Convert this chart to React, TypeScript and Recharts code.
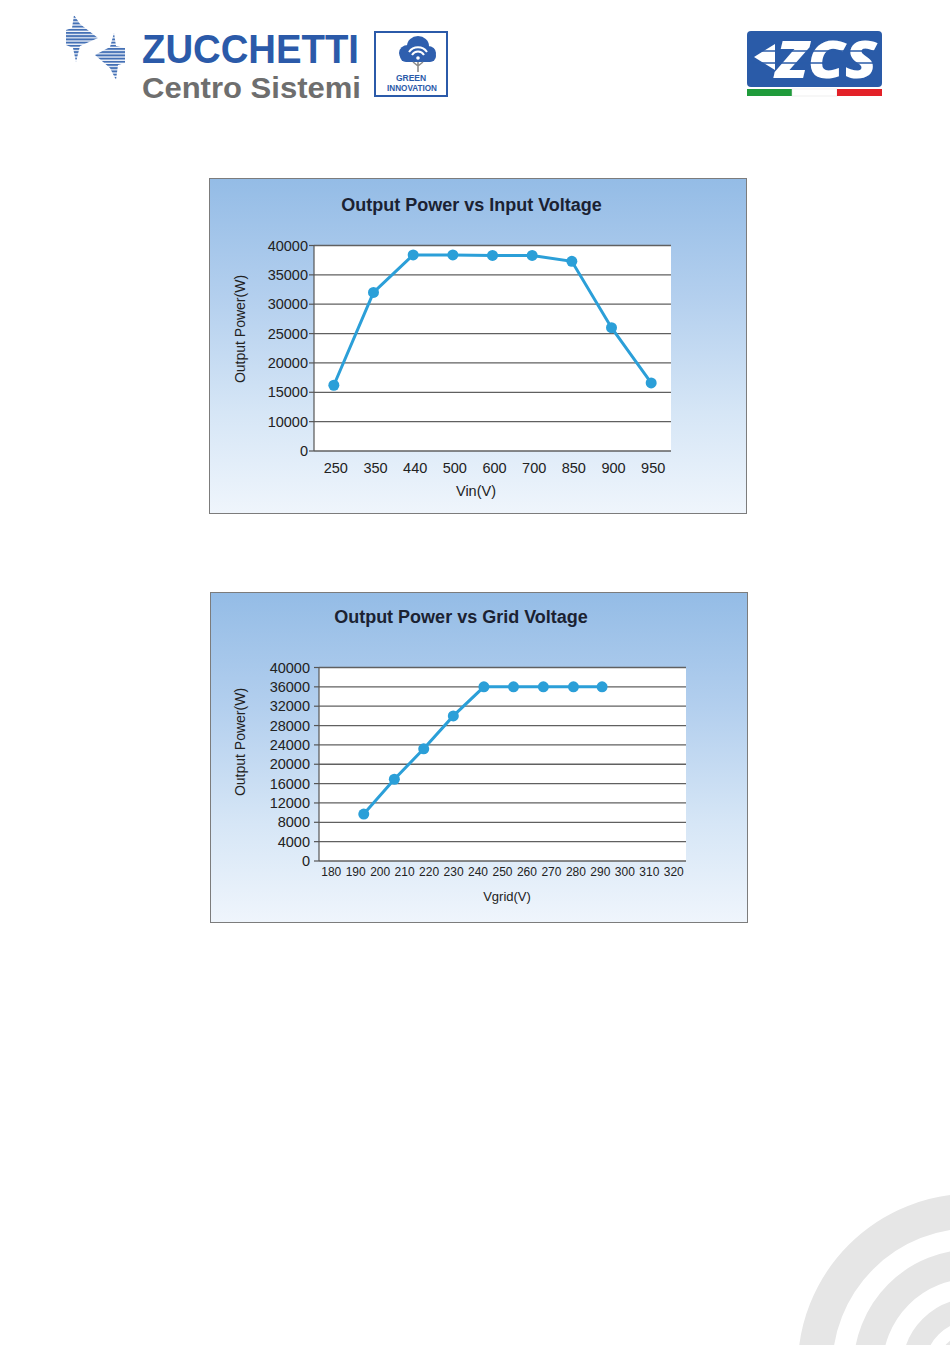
import React from 'react';
import { LineChart, Line, XAxis, YAxis, CartesianGrid } from 'recharts';

const FONT = '"Liberation Sans", Arial, Helvetica, sans-serif';
const LINE_COLOR = '#2b9fd8';
const GRID_COLOR = '#606060';
const AXIS_COLOR = '#555555';
const TICK_COLOR = '#222222';

// ---------- Chart 1: Output Power vs Input Voltage ----------
const vinCategories = ['250', '350', '440', '500', '600', '700', '850', '900', '950'];
const vinPower = [16200, 32000, 38400, 38400, 38300, 38300, 37300, 26000, 16600];
const vinYTicks = [5000, 10000, 15000, 20000, 25000, 30000, 35000, 40000];
const vinYTickLabels = ['0', '10000', '15000', '20000', '25000', '30000', '35000', '40000'];

// ---------- Chart 2: Output Power vs Grid Voltage ----------
const vgridTickValues = [180, 190, 200, 210, 220, 230, 240, 250, 260, 270, 280, 290, 300, 310, 320];
const vgridX = [193.3, 205.8, 217.8, 229.9, 242.4, 254.5, 266.7, 279.0, 290.7];
const vgridPower = [9700, 16900, 23200, 30000, 36000, 36000, 36000, 36000, 36000];
const vgridYTicks = [0, 4000, 8000, 12000, 16000, 20000, 24000, 28000, 32000, 36000, 40000];

const vinIdx = vinCategories.map((_, i) => i);
const vinMarks = [...vinIdx.map((i) => i - 0.5), vinIdx.length - 0.5];
const vinData = vinCategories.map((c, i) => ({ idx: i, vin: c, power: vinPower[i] }));

const vgridMarks = [...vgridTickValues.map((t) => t - 5), vgridTickValues[vgridTickValues.length - 1] + 5];
const vgridData = vgridX.map((x, i) => ({ vgrid: x, power: vgridPower[i] }));

const panelBg: React.CSSProperties = {
  position: 'absolute',
  left: 0,
  top: 0,
  right: 0,
  bottom: 0,
  boxSizing: 'border-box',
  border: '1.5px solid #7c7c7c',
  background: 'linear-gradient(to bottom, #94bce6 0%, #b3cfee 35%, #d6e6f6 70%, #eff5fc 100%)',
};

function Title({ text, center, top }: { text: string; center: number; top: number }) {
  return (
    <div
      style={{
        position: 'absolute',
        left: 0,
        width: center * 2,
        top,
        textAlign: 'center',
        fontFamily: FONT,
        fontWeight: 'bold',
        fontSize: 18,
        lineHeight: '18px',
        color: '#1b2232',
        whiteSpace: 'nowrap',
      }}
    >
      {text}
    </div>
  );
}

function InputVoltageChart() {
  const W = 538;
  const H = 336;
  return (
    <div style={{ position: 'absolute', left: 209, top: 178, width: W, height: H }}>
      <div style={panelBg} />
      <Title text="Output Power vs Input Voltage" center={262.5} top={18.3} />
      <div style={{ position: 'absolute', left: 0, top: 0 }}>
        <LineChart width={W} height={H} data={vinData} margin={{ top: 67.5, right: 76, bottom: 0, left: 0 }}>
          <CartesianGrid vertical={false} fill="#ffffff" stroke={GRID_COLOR} strokeWidth={1.3} />
          <XAxis
            xAxisId={0}
            type="number"
            domain={[-0.5, vinCategories.length - 0.5]}
            allowDataOverflow
            ticks={vinMarks}
            interval={0}
            tick={false}
            height={0}
            tickSize={6}
            axisLine={{ stroke: AXIS_COLOR, strokeWidth: 1.2 }}
            tickLine={{ stroke: AXIS_COLOR, strokeWidth: 1.2 }}
          />
          <XAxis
            xAxisId="cat"
            dataKey="idx"
            type="number"
            domain={[-0.5, vinCategories.length - 0.5]}
            allowDataOverflow
            ticks={vinIdx}
            interval={0}
            tickFormatter={(i: number) => vinCategories[i]}
            height={63}
            tickSize={0}
            tickMargin={12}
            axisLine={false}
            tickLine={false}
            tick={{ fill: TICK_COLOR, fontSize: 14.5, fontFamily: FONT, dx: 2 }}
            label={{
              content: () => (
                <text x={267} y={318} textAnchor="middle" fill={TICK_COLOR} fontSize={14.5} fontFamily={FONT}>
                  Vin(V)
                </text>
              ),
            }}
          />
          <YAxis
            type="number"
            domain={[5000, 40000]}
            ticks={vinYTicks}
            interval={0}
            width={105}
            tickSize={5}
            tickMargin={1}
            tickFormatter={(v: number) => vinYTickLabels[vinYTicks.indexOf(v)]}
            axisLine={{ stroke: AXIS_COLOR, strokeWidth: 1.2 }}
            tickLine={{ stroke: AXIS_COLOR, strokeWidth: 1.2 }}
            tick={{ fill: TICK_COLOR, fontSize: 14.5, fontFamily: FONT }}
            label={{
              content: () => (
                <text
                  x={31}
                  y={151}
                  transform="rotate(-90 31 151)"
                  textAnchor="middle"
                  dominantBaseline="central"
                  fill={TICK_COLOR}
                  fontSize={14}
                  fontFamily={FONT}
                >
                  Output Power(W)
                </text>
              ),
            }}
          />
          <Line
            xAxisId="cat"
            dataKey="power"
            stroke={LINE_COLOR}
            strokeWidth={3}
            dot={{ r: 5.5, fill: LINE_COLOR, stroke: LINE_COLOR, strokeWidth: 0 }}
            activeDot={false}
            isAnimationActive={false}
          />
        </LineChart>
      </div>
    </div>
  );
}

function GridVoltageChart() {
  const W = 538;
  const H = 331;
  return (
    <div style={{ position: 'absolute', left: 210, top: 592, width: W, height: H }}>
      <div style={panelBg} />
      <Title text="Output Power vs Grid Voltage" center={251} top={16.3} />
      <div style={{ position: 'absolute', left: 0, top: 0 }}>
        <LineChart width={W} height={H} data={vgridData} margin={{ top: 75.5, right: 62, bottom: 0, left: 0 }}>
          <CartesianGrid vertical={false} fill="#ffffff" stroke={GRID_COLOR} strokeWidth={1.3} />
          <XAxis
            xAxisId={0}
            type="number"
            domain={[vgridMarks[0], vgridMarks[vgridMarks.length - 1]]}
            allowDataOverflow
            ticks={vgridMarks}
            interval={0}
            tick={false}
            height={0}
            tickSize={5}
            axisLine={{ stroke: AXIS_COLOR, strokeWidth: 1.2 }}
            tickLine={{ stroke: AXIS_COLOR, strokeWidth: 1.2 }}
          />
          <XAxis
            xAxisId="val"
            dataKey="vgrid"
            type="number"
            domain={[vgridMarks[0], vgridMarks[vgridMarks.length - 1]]}
            allowDataOverflow
            ticks={vgridTickValues}
            interval={0}
            height={62}
            tickSize={0}
            tickMargin={6}
            axisLine={false}
            tickLine={false}
            tick={{ fill: TICK_COLOR, fontSize: 12, fontFamily: FONT }}
            label={{
              content: () => (
                <text x={297} y={308.5} textAnchor="middle" fill={TICK_COLOR} fontSize={13} fontFamily={FONT}>
                  Vgrid(V)
                </text>
              ),
            }}
          />
          <YAxis
            type="number"
            domain={[0, 40000]}
            ticks={vgridYTicks}
            interval={0}
            width={109}
            tickSize={5}
            tickMargin={4}
            axisLine={{ stroke: AXIS_COLOR, strokeWidth: 1.2 }}
            tickLine={{ stroke: AXIS_COLOR, strokeWidth: 1.2 }}
            tick={{ fill: TICK_COLOR, fontSize: 14.5, fontFamily: FONT }}
            label={{
              content: () => (
                <text
                  x={30}
                  y={150}
                  transform="rotate(-90 30 150)"
                  textAnchor="middle"
                  dominantBaseline="central"
                  fill={TICK_COLOR}
                  fontSize={14}
                  fontFamily={FONT}
                >
                  Output Power(W)
                </text>
              ),
            }}
          />
          <Line
            xAxisId="val"
            dataKey="power"
            stroke={LINE_COLOR}
            strokeWidth={3}
            dot={{ r: 5.5, fill: LINE_COLOR, stroke: LINE_COLOR, strokeWidth: 0 }}
            activeDot={false}
            isAnimationActive={false}
          />
        </LineChart>
      </div>
    </div>
  );
}

function PageDecor() {
  const blue = '#2b5aa9';
  return (
    <svg width={950} height={1345} style={{ position: 'absolute', left: 0, top: 0 }}>
      <defs>
        <pattern id="zstripes" width="4" height="3.2" patternUnits="userSpaceOnUse">
          <rect width="4" height="2" fill="#4470b5" />
        </pattern>
      </defs>
      {/* Zucchetti arrow icon */}
      <polygon points="74,15 80,24 98,38 80,46 76,62 73,48 66,45 66,30 72,28" fill="url(#zstripes)" />
      <polygon points="114,33 116,46 125,48 125,63 118,65 116,80 110,68 95,55 110,47" fill="url(#zstripes)" />
      {/* Wordmark */}
      <text x={142} y={63} fontFamily={FONT} fontWeight="bold" fontSize={41} fill={blue} textLength={217} lengthAdjust="spacingAndGlyphs">
        ZUCCHETTI
      </text>
      <text x={142} y={98} fontFamily={FONT} fontWeight="bold" fontSize={29} fill="#6e6e6e" textLength={219} lengthAdjust="spacingAndGlyphs">
        Centro Sistemi
      </text>
      {/* Green innovation badge */}
      <rect x={375} y={32} width={72} height={64} fill="#ffffff" stroke={blue} strokeWidth={2} />
      <ellipse cx={408} cy={53} rx={9} ry={8} fill="#2f5fae" />
      <ellipse cx={418} cy={46} rx={11} ry={10} fill="#2f5fae" />
      <ellipse cx={428} cy={53} rx={8} ry={7} fill="#2f5fae" />
      <rect x={400} y={50} width={36} height={12} rx={6} fill="#2f5fae" />
      <path d="M409,52 A11,11 0 0 1 427,52" stroke="#fff" strokeWidth={2} fill="none" />
      <path d="M412,55 A7,7 0 0 1 424,55" stroke="#fff" strokeWidth={2} fill="none" />
      <circle cx={418} cy={58} r={1.8} fill="#fff" />
      <path d="M418,62 L418,72 M418,66 L413,62 M418,66 L423,62" stroke="#8a8a8a" strokeWidth={1.6} fill="none" />
      <text fontFamily={FONT} fontWeight="bold" fontSize={8.5} fill={blue}>
        <tspan x={411} y={81} textAnchor="middle">GREEN</tspan>
        <tspan x={387} y={91} textLength={50} lengthAdjust="spacingAndGlyphs">INNOVATION</tspan>
      </text>
      {/* ZCS logo */}
      <rect x={747} y={31} width={135} height={56} rx={4} fill="#2a5ba8" />
      <polygon points="754,57 775,44 775,70" fill="#ffffff" />
      <text x={776} y={78} fontFamily='"Open Sans", sans-serif' fontWeight="800" fontStyle="italic" fontSize={52} fill="#ffffff" textLength={101} lengthAdjust="spacingAndGlyphs">
        ZCS
      </text>
      <line x1={752} y1={51} x2={880} y2={51} stroke="#2a5ba8" strokeWidth={1.5} />
      <line x1={752} y1={63} x2={880} y2={63} stroke="#2a5ba8" strokeWidth={1.5} />
      <rect x={747} y={89} width={45} height={7} fill="#1f9b3b" />
      <rect x={792} y={89} width={45} height={7} fill="#ffffff" stroke="#dddddd" strokeWidth={0.5} />
      <rect x={837} y={89} width={45} height={7} fill="#e32128" />
      {/* Decorative arcs */}
      <g fill="none" stroke="#e6e6e6">
        <circle cx={972} cy={1368} r={157} strokeWidth={34.5} />
        <circle cx={972} cy={1368} r={104} strokeWidth={29} />
        <circle cx={972} cy={1368} r={58.4} strokeWidth={22.4} />
        <circle cx={972} cy={1368} r={27} strokeWidth={16} />
      </g>
    </svg>
  );
}

export default function App() {
  return (
    <div style={{ position: 'absolute', left: 0, top: 0, width: 950, height: 1345, background: '#ffffff', overflow: 'hidden' }}>
      <PageDecor />
      <InputVoltageChart />
      <GridVoltageChart />
    </div>
  );
}
